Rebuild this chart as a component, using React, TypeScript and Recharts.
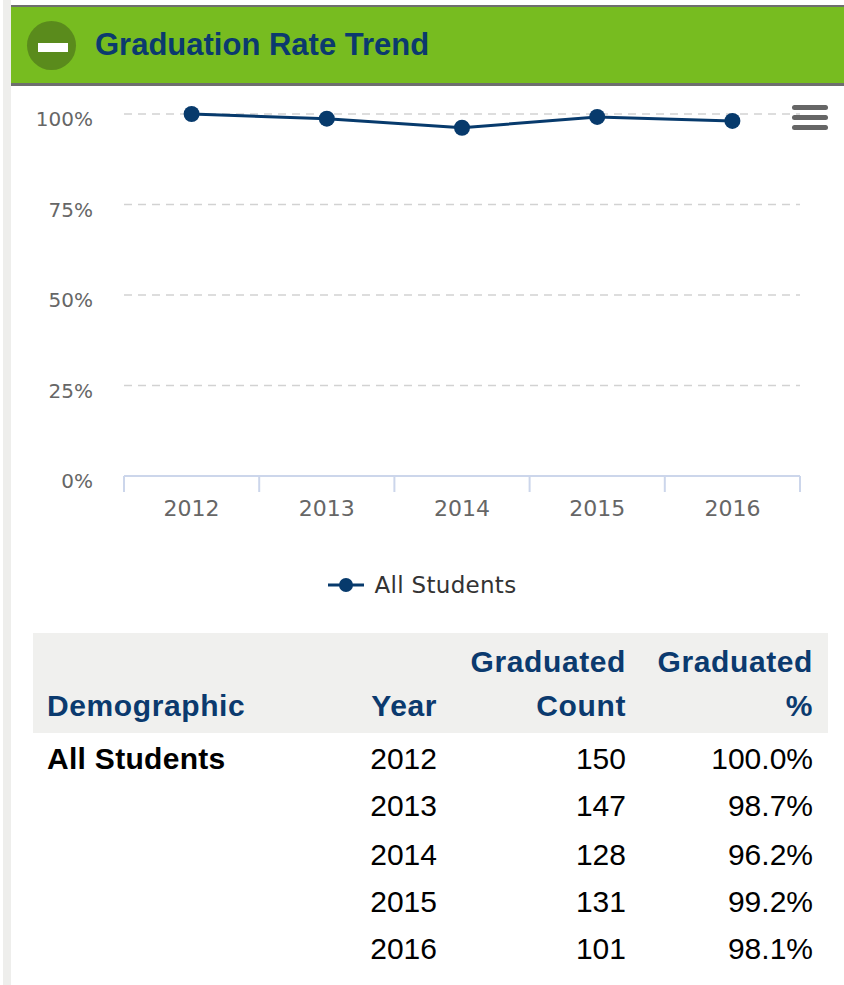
import React from 'react';
import { LineChart, Line, XAxis, YAxis, CartesianGrid, Legend } from 'recharts';

const title = 'Graduation Rate Trend';
const seriesName = 'All Students';
const years = ['2012', '2013', '2014', '2015', '2016'];
const rates = [100, 98.7, 96.2, 99.2, 98.1];
const counts = [150, 147, 128, 131, 101];
const rateLabels = ['100.0%', '98.7%', '96.2%', '99.2%', '98.1%'];
const yTicks = [0, 25, 50, 75, 100];
const catIndex = [0, 1, 2, 3, 4];
// category centres (labels) and category boundaries (tick marks)
const xTicks = [-0.5, 0, 0.5, 1, 1.5, 2, 2.5, 3, 3.5, 4, 4.5];

const data = years.map((y, i) => ({ idx: catIndex[i], year: y, rate: rates[i] }));

const NAVY = '#073a6c';
const BLUE_TEXT = '#0b3a6e';
const CHART_FONT = '"DejaVu Sans", Verdana, sans-serif';
const TABLE_FONT = '"Liberation Sans", Arial, Helvetica, sans-serif';

const YTick = (props: any) => {
  const { x, y, payload } = props;
  return (
    <text x={x} y={y} dy={12} textAnchor="end" fill="#666666" fontSize={20} fontFamily={CHART_FONT}>
      {payload.value}%
    </text>
  );
};

const XTick = (props: any) => {
  const { x, y, payload } = props;
  const v = payload.value as number;
  if (Number.isInteger(v)) {
    return (
      <text x={x} y={y} dy={40} textAnchor="middle" fill="#666666" fontSize={22} fontFamily={CHART_FONT}>
        {years[v]}
      </text>
    );
  }
  return <line x1={x} y1={y} x2={x} y2={y + 16} stroke="#ccd6eb" strokeWidth={2} />;
};

const LegendContent = () => (
  <div style={{ display: 'flex', justifyContent: 'center', alignItems: 'center', height: 26 }}>
    <svg width={36} height={16} style={{ marginRight: 11 }}>
      <line x1={0} y1={8} x2={36} y2={8} stroke={NAVY} strokeWidth={3} />
      <circle cx={18} cy={8} r={7} fill={NAVY} />
    </svg>
    <span style={{ fontFamily: CHART_FONT, fontSize: 23, color: '#333333', letterSpacing: 0.3 }}>{seriesName}</span>
  </div>
);

const headerCell = (text: React.ReactNode, style: React.CSSProperties) => (
  <div
    style={{
      position: 'absolute',
      fontFamily: TABLE_FONT,
      fontWeight: 'bold',
      fontSize: 30,
      letterSpacing: 0.6,
      color: BLUE_TEXT,
      lineHeight: '44px',
      whiteSpace: 'nowrap',
      ...style,
    }}
  >
    {text}
  </div>
);

export default function App() {
  const rowTops = [737, 784, 833, 880, 927];
  return (
    <div style={{ position: 'absolute', left: 0, top: 0, width: 844, height: 985, background: '#ffffff', overflow: 'hidden' }}>
      {/* left strip */}
      <div style={{ position: 'absolute', left: 3, top: 0, width: 8, height: 985, background: '#eeeeec' }} />
      {/* header */}
      <div style={{ position: 'absolute', left: 11, top: 5, width: 833, height: 2, background: '#6e6e6e' }} />
      <div style={{ position: 'absolute', left: 11, top: 7, width: 833, height: 76, background: '#77bc20' }} />
      <div style={{ position: 'absolute', left: 11, top: 83, width: 833, height: 3, background: '#6e6e6e' }} />
      <div style={{ position: 'absolute', left: 27, top: 21, width: 49, height: 49, borderRadius: '50%', background: '#5a8b1c' }} />
      <div style={{ position: 'absolute', left: 38, top: 43, width: 30, height: 9, background: '#ffffff' }} />
      <div
        style={{
          position: 'absolute',
          left: 95,
          top: 27,
          fontFamily: TABLE_FONT,
          fontWeight: 'bold',
          fontSize: 31,
          lineHeight: '36px',
          color: BLUE_TEXT,
          whiteSpace: 'nowrap',
        }}
      >
        {title}
      </div>

      {/* chart */}
      <div style={{ position: 'absolute', left: 0, top: 90 }}>
        <LineChart width={844} height={520} data={data} margin={{ top: 24, right: 44, left: 0, bottom: 94 }}>
          <CartesianGrid horizontal vertical={false} stroke="#d2d2d2" strokeDasharray="8 6" strokeWidth={1.5} />
          <XAxis
            dataKey="idx"
            type="number"
            domain={[-0.5, 4.5]}
            ticks={xTicks}
            height={40}
            tickSize={0}
            tickMargin={0}
            axisLine={{ stroke: '#ccd6eb', strokeWidth: 2 }}
            tickLine={false}
            tick={<XTick />}
            interval={0}
          />
          <YAxis
            domain={[0, 100]}
            ticks={yTicks}
            width={124}
            tickSize={0}
            tickMargin={31}
            axisLine={false}
            tickLine={false}
            tick={<YTick />}
            interval={0}
          />
          <Line
            dataKey="rate"
            name={seriesName}
            stroke={NAVY}
            strokeWidth={3}
            dot={{ r: 8, fill: NAVY, stroke: NAVY, strokeWidth: 0 }}
            activeDot={false}
            isAnimationActive={false}
          />
          <Legend
            verticalAlign="middle"
            align="center"
            layout="horizontal"
            wrapperStyle={{ top: 482, left: 0, width: 844 }}
            content={<LegendContent />}
          />
        </LineChart>
      </div>

      {/* hamburger menu */}
      <svg style={{ position: 'absolute', left: 790, top: 103 }} width={40} height={30}>
        <rect x={2} y={2} width={36} height={5} rx={2.5} fill="#666666" />
        <rect x={2} y={12} width={36} height={5} rx={2.5} fill="#666666" />
        <rect x={2} y={22} width={36} height={5} rx={2.5} fill="#666666" />
      </svg>

      {/* table header */}
      <div style={{ position: 'absolute', left: 33, top: 633, width: 795, height: 100, background: '#f0f0ee' }} />
      {headerCell('Demographic', { left: 47, top: 684 })}
      {headerCell('Year', { right: 844 - 437, top: 684, textAlign: 'right' })}
      {headerCell('Graduated', { right: 844 - 626, top: 640, textAlign: 'right' })}
      {headerCell('Count', { right: 844 - 626, top: 684, textAlign: 'right' })}
      {headerCell('Graduated', { right: 844 - 813, top: 640, textAlign: 'right' })}
      {headerCell('%', { right: 844 - 813, top: 684, textAlign: 'right' })}

      {/* table body */}
      {years.map((y, i) => (
        <React.Fragment key={y}>
          {i === 0 && (
            <div
              style={{
                position: 'absolute',
                left: 47,
                top: rowTops[i],
                fontFamily: TABLE_FONT,
                fontWeight: 'bold',
                fontSize: 30,
                letterSpacing: 0.3,
                lineHeight: '44px',
                color: '#000000',
                whiteSpace: 'nowrap',
              }}
            >
              {seriesName}
            </div>
          )}
          {[
            { text: y, right: 437 },
            { text: String(counts[i]), right: 626 },
            { text: rateLabels[i], right: 813 },
          ].map((c) => (
            <div
              key={c.right}
              style={{
                position: 'absolute',
                right: 844 - c.right,
                top: rowTops[i],
                fontFamily: TABLE_FONT,
                fontSize: 30,
                lineHeight: '44px',
                color: '#000000',
                textAlign: 'right',
                whiteSpace: 'nowrap',
              }}
            >
              {c.text}
            </div>
          ))}
        </React.Fragment>
      ))}
    </div>
  );
}
